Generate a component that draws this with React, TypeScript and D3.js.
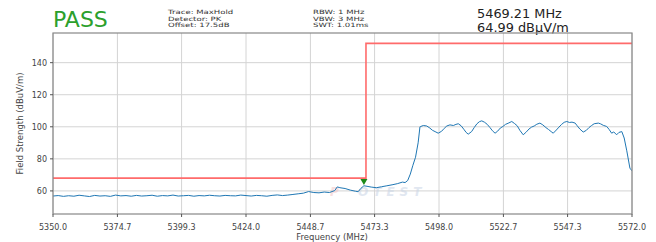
import React from "react";
import * as d3 from "d3";

const W = 656;
const H = 242;

const xTicks = [5350.0, 5374.7, 5399.3, 5424.0, 5448.7, 5473.3, 5498.0, 5522.7, 5547.3, 5572.0];
const yTicks = [60, 80, 100, 120, 140];

const limitFreq = [5350, 5470, 5470, 5572];
const limitLevel = [68, 68, 152, 152];

const traceFreq = [
  5350, 5352, 5354, 5356, 5358, 5360, 5362, 5364, 5366, 5368,
  5370, 5372, 5374, 5376, 5378, 5380, 5382, 5384, 5386, 5388,
  5390, 5392, 5394, 5396, 5398, 5400, 5402, 5404, 5406, 5408,
  5410, 5412, 5414, 5416, 5418, 5420, 5422, 5424, 5426, 5428,
  5430, 5432, 5434, 5436, 5438, 5440,
  5442, 5444, 5446, 5448, 5450, 5452, 5454, 5456, 5458, 5459,
  5460, 5462, 5464, 5466, 5467, 5468, 5469.2, 5470, 5472, 5474,
  5476, 5478, 5480, 5482, 5484, 5485, 5486, 5487, 5488, 5489, 5490,
  5490.7, 5491, 5492, 5493.3, 5494.5, 5495.5, 5496.5, 5497.7, 5499, 5500,
  5501, 5502.2, 5503.5, 5504.5, 5505.4, 5506.5, 5507.5, 5508.4, 5509.2, 5510.5,
  5511.5, 5512.5, 5513.5, 5514.4, 5515.5, 5516.5, 5517.5, 5518.5, 5519.5, 5520.5,
  5521.5, 5522.5, 5523.5, 5524.5, 5525.9, 5527, 5528, 5529, 5530.3, 5531.5,
  5532.5, 5533.5, 5534.5, 5535.5, 5536.7, 5537.8, 5539, 5540, 5541, 5541.8,
  5543, 5544, 5545, 5546, 5547, 5548, 5549, 5550.2, 5551, 5552,
  5553.3, 5554.5, 5555.5, 5556.5, 5557.5, 5559.1, 5560, 5561, 5562.3, 5563.2,
  5564.2, 5565, 5566.1, 5567, 5568.1, 5569, 5570, 5571.2, 5572,
];

const traceLevel = [
  56.8, 57.1, 56.6, 57.0, 56.7, 57.3, 56.9, 56.5, 57.2, 56.8,
  57.0, 56.6, 57.4, 56.9, 57.1, 56.7, 57.2, 56.8, 57.0, 57.3,
  56.7, 57.1, 56.9, 57.4, 56.8, 57.0, 57.2, 56.7, 57.1, 56.9,
  57.3, 57.0, 56.8, 57.2, 57.0, 56.9, 57.4, 57.1, 56.8, 57.2,
  57.0, 56.7, 57.2, 57.5, 57.1, 57.4,
  57.8, 58.2, 58.6, 59.6, 59.0, 58.8, 59.3, 59.0, 60.2, 62.5,
  62.0, 61.5, 60.5, 59.8, 59.5, 61.5, 63.2, 63.0, 62.4, 62.0,
  62.6, 63.2, 63.8, 64.5, 65.5, 65.2, 66.5, 70.5, 76.0, 81.0, 90.0,
  100.0, 100.2, 100.8, 100.5, 99.2, 97.8, 97.0, 96.0, 97.2, 99.0,
  100.5, 101.2, 100.8, 101.5, 101.9, 100.6, 98.5, 96.5, 95.4, 97.0,
  99.5, 101.8, 103.2, 103.7, 102.8, 101.5, 99.6, 97.5, 96.0, 97.3,
  99.2, 100.2, 101.5, 102.2, 103.3, 102.0, 100.6, 97.8, 95.0, 96.8,
  98.6, 99.8, 100.5, 101.6, 102.3, 101.2, 99.5, 98.3, 97.0, 96.0,
  98.0, 99.8, 101.5, 102.8, 103.3, 102.7, 102.9, 102.3, 100.6, 98.6,
  96.7, 97.8, 99.5, 100.8, 101.9, 102.3, 101.8, 100.9, 100.2, 98.4,
  96.0, 96.8, 95.0, 96.5, 97.0, 93.0, 85.0, 74.2, 72.5,
];

const markerFreq = 5469.21;
const markerLevel = 64.99;

const headerLeft = ["Trace: MaxHold", "Detector: PK", "Offset: 17.5dB"];
const headerMid = ["RBW: 1 MHz", "VBW: 3 MHz", "SWT: 1.01ms"];
const markerLines = ["5469.21 MHz", "64.99 dBµV/m"];

const L = 53, R = 632, T = 33, B = 214;
const FONT = "DejaVu Sans, sans-serif";

export default function App() {
  const x = d3.scaleLinear().domain([5350, 5572]).range([L, R]);
  const y = d3.scaleLinear().domain([45.6, 158.5]).range([B, T]);

  const line = d3
    .line<number>()
    .x((_, i) => x(traceFreq[i]))
    .y((d) => y(d));
  const limitLine = d3
    .line<number>()
    .x((_, i) => x(limitFreq[i]))
    .y((d) => y(d));

  const mx = x(markerFreq);
  const my = y(markerLevel);

  return (
    <svg width={W} height={H} style={{ position: "absolute", left: 0, top: 0 }} fontFamily={FONT}>
      <rect x={0} y={0} width={W} height={H} fill="#fff" />
      <text x={53} y={27} fontSize={22} fill="#2ca02c">PASS</text>
      {headerLeft.map((t, i) => (
        <text key={"hl" + i} transform={`translate(168,${13.6 + i * 6.9}) scale(1.45,1)`} fontSize={5.9} fill="#333">{t}</text>
      ))}
      {headerMid.map((t, i) => (
        <text key={"hm" + i} transform={`translate(313,${13.6 + i * 6.9}) scale(1.45,1)`} fontSize={5.9} fill="#333">{t}</text>
      ))}
      {markerLines.map((t, i) => (
        <text key={"ml" + i} transform={`translate(477,${18.4 + i * 13.4}) scale(1.13,1)`} fontSize={11.4} fill="#222">{t}</text>
      ))}

      <defs>
        <clipPath id="plotclip">
          <rect x={L} y={T} width={R - L} height={B - T} />
        </clipPath>
      </defs>

      {xTicks.map((t, i) => (
        <line key={"gx" + i} x1={x(t)} x2={x(t)} y1={T} y2={B} stroke="#d4d4d4" strokeWidth={1} />
      ))}
      {yTicks.map((t, i) => (
        <line key={"gy" + i} x1={L} x2={R} y1={y(t)} y2={y(t)} stroke="#d4d4d4" strokeWidth={1} />
      ))}

      <g opacity={0.55}>
        <text x={330} y={196} fontSize={12} fontStyle="italic" fontWeight="bold" fill="#f3c4c4" letterSpacing={3}>P</text>
        <text x={358} y={196} fontSize={12} fontStyle="italic" fontWeight="bold" fill="#c9d5e6" letterSpacing={5}>OTEST</text>
      </g>

      <g clipPath="url(#plotclip)">
        <path d={limitLine(limitLevel) || ""} fill="none" stroke="#ff6b6b" strokeWidth={1.6} />
        <path d={line(traceLevel) || ""} fill="none" stroke="#1f77b4" strokeWidth={1} />
      </g>

      <path
        d={`M${mx - 3.5},${my - 4} L${mx + 3.5},${my - 4} L${mx},${my + 2} Z`}
        fill="#1a8a1a"
      />

      <rect x={L} y={T} width={R - L} height={B - T} fill="none" stroke="#888" strokeWidth={1.2} />

      {xTicks.map((t, i) => (
        <g key={"tx" + i}>
          <line x1={x(t)} x2={x(t)} y1={B} y2={B + 3} stroke="#555" />
          <text x={x(t)} y={229.5} fontSize={8} textAnchor="middle" fill="#444">{t.toFixed(1)}</text>
        </g>
      ))}
      {yTicks.map((t, i) => (
        <g key={"ty" + i}>
          <line x1={L - 3} x2={L} y1={y(t)} y2={y(t)} stroke="#555" />
          <text x={47} y={y(t) + 3} fontSize={8} textAnchor="end" fill="#444">{t}</text>
        </g>
      ))}

      <text x={332} y={239.5} fontSize={8.5} textAnchor="middle" fill="#444">Frequency (MHz)</text>
      <text
        transform={`translate(23,${(T + B) / 2}) rotate(-90)`}
        fontSize={8.5}
        textAnchor="middle"
        fill="#444"
      >
        Field Strength (dBuV/m)
      </text>
    </svg>
  );
}
